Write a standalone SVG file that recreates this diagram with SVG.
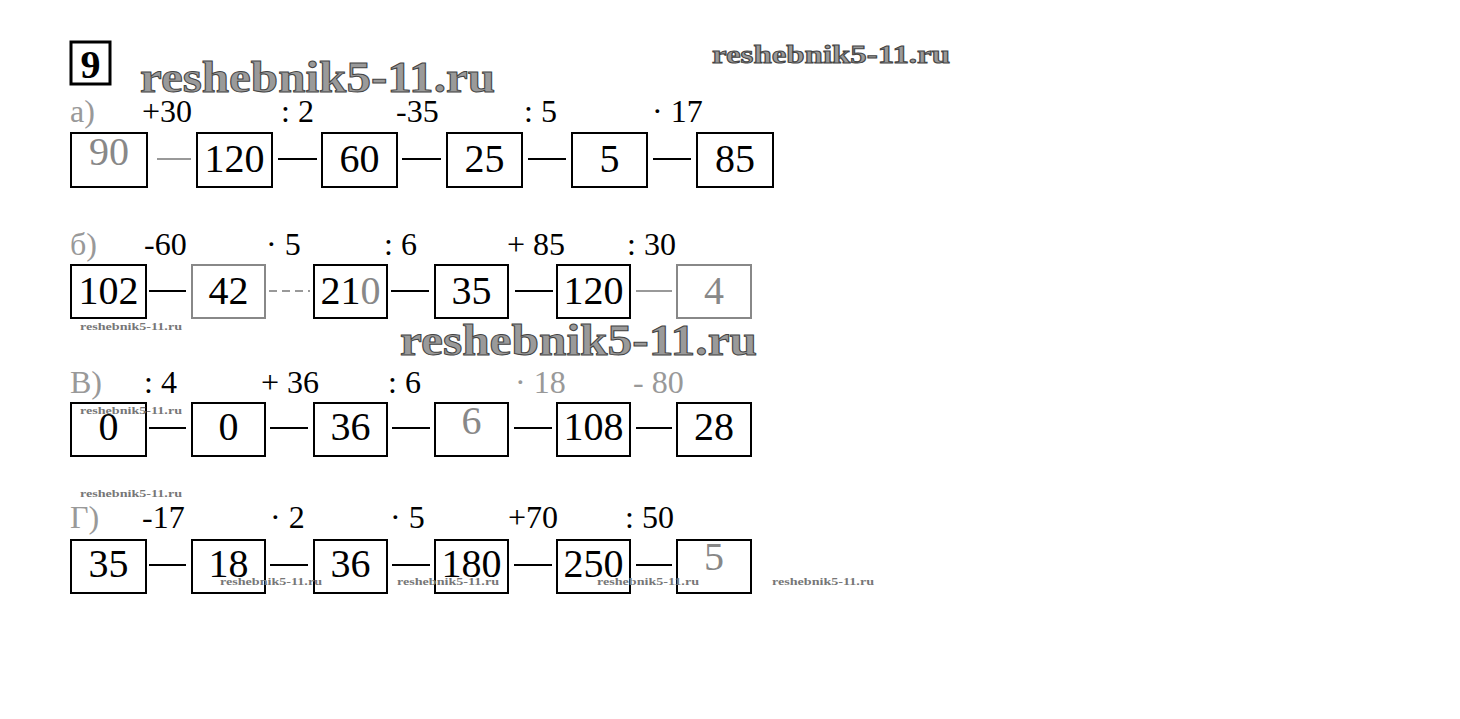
<svg xmlns="http://www.w3.org/2000/svg" width="1460" height="719" viewBox="0 0 1460 719">
<style>
.box{fill:#fff;stroke:#000;stroke-width:2}
.gbox{fill:#fff;stroke:#888;stroke-width:2}
.num{font-family:"Liberation Serif",serif;font-size:40px;text-anchor:middle;fill:#000}
.gnum{font-family:"Liberation Serif",serif;font-size:40px;text-anchor:middle;fill:#888}
.op{font-family:"Liberation Serif",serif;font-size:32px;fill:#000}
.gop{font-family:"Liberation Serif",serif;font-size:32px;fill:#999}
.con{stroke:#000;stroke-width:2}
.gcon{stroke:#999;stroke-width:2}
.wm{font-family:"Liberation Serif",serif;font-weight:bold;fill:#9a9a9a;stroke:#444;stroke-width:1}
.wms{font-family:"Liberation Serif",serif;font-weight:bold;font-size:11px;fill:#777}
</style>
<rect width="1460" height="719" fill="#fff"/>
<g id="title">
<rect x="71" y="42" width="39" height="42" fill="#fff" stroke="#000" stroke-width="3"/>
<text x="90.5" y="78" font-family="Liberation Serif,serif" font-weight="bold" font-size="40" text-anchor="middle">9</text>
</g>
<g id="connectors">
<line class="gcon" x1="157" y1="159" x2="191" y2="159"/>
<line class="con" x1="278" y1="159" x2="317" y2="159"/>
<line class="con" x1="402" y1="159" x2="441" y2="159"/>
<line class="con" x1="528" y1="159" x2="566" y2="159"/>
<line class="con" x1="653" y1="159" x2="691" y2="159"/>
<line class="con" x1="149" y1="291" x2="186" y2="291"/>
<line class="gcon" x1="269" y1="291" x2="310" y2="291" stroke-dasharray="8 5"/>
<line class="con" x1="391" y1="291" x2="429" y2="291"/>
<line class="con" x1="515" y1="291" x2="553" y2="291"/>
<line class="gcon" x1="636" y1="291" x2="672" y2="291"/>
<line class="con" x1="149" y1="428" x2="186" y2="428"/>
<line class="con" x1="270" y1="428" x2="308" y2="428"/>
<line class="con" x1="392" y1="428" x2="430" y2="428"/>
<line class="con" x1="514" y1="428" x2="552" y2="428"/>
<line class="con" x1="636" y1="428" x2="672" y2="428"/>
<line class="con" x1="149" y1="565" x2="186" y2="565"/>
<line class="con" x1="270" y1="565" x2="308" y2="565"/>
<line class="con" x1="392" y1="565" x2="430" y2="565"/>
<line class="con" x1="514" y1="565" x2="552" y2="565"/>
<line class="con" x1="636" y1="565" x2="672" y2="565"/>
</g>
<g id="row-a">
<text class="gop" x="70" y="122">а)</text>
<text class="op" x="142" y="122">+30</text>
<text class="op" x="281" y="122">: 2</text>
<text class="op" x="396" y="122">-35</text>
<text class="op" x="524" y="122">: 5</text>
<text class="op" x="652" y="122">· 17</text>
<g id="a1"><rect class="box" x="71" y="133" width="76" height="54"/><text class="gnum" x="109" y="165" font-size="34">90</text></g>
<g id="a2"><rect class="box" x="197" y="133" width="75" height="54"/><text class="num" x="234.5" y="172">120</text></g>
<g id="a3"><rect class="box" x="322" y="133" width="75" height="54"/><text class="num" x="359.5" y="172">60</text></g>
<g id="a4"><rect class="box" x="447" y="133" width="75" height="54"/><text class="num" x="484.5" y="172">25</text></g>
<g id="a5"><rect class="box" x="572" y="133" width="75" height="54"/><text class="num" x="609.5" y="172">5</text></g>
<g id="a6"><rect class="box" x="697" y="133" width="76" height="54"/><text class="num" x="735" y="172">85</text></g>
</g>
<g id="row-b">
<text class="gop" x="70" y="255">б)</text>
<text class="op" x="144" y="255">-60</text>
<text class="op" x="266" y="255">· 5</text>
<text class="op" x="384" y="255">: 6</text>
<text class="op" x="507" y="255">+ 85</text>
<text class="op" x="627" y="255">: 30</text>
<g id="b1"><rect class="box" x="71" y="265" width="75" height="53"/><text class="num" x="108.5" y="304">102</text></g>
<g id="b2"><rect class="gbox" x="192" y="265" width="73" height="53"/><text class="num" x="228.5" y="304">42</text></g>
<g id="b3"><rect class="box" x="314" y="265" width="73" height="53"/><text class="num" x="350.5" y="304">21<tspan fill="#888">0</tspan></text></g>
<g id="b4"><rect class="box" x="435" y="265" width="73" height="53"/><text class="num" x="471.5" y="304">35</text></g>
<g id="b5"><rect class="box" x="557" y="265" width="73" height="53"/><text class="num" x="593.5" y="304">120</text></g>
<g id="b6"><rect class="gbox" x="677" y="265" width="74" height="53"/><text class="gnum" x="714" y="304">4</text></g>
</g>
<g id="row-v">
<text class="gop" x="70" y="393">В)</text>
<text class="op" x="144" y="393">: 4</text>
<text class="op" x="261" y="393">+ 36</text>
<text class="op" x="388" y="393">: 6</text>
<text class="gop" x="515" y="393">· 18</text>
<text class="gop" x="633" y="393">- 80</text>
<g id="v1"><rect class="box" x="71" y="403" width="75" height="53"/><text class="num" x="108.5" y="440">0</text></g>
<g id="v2"><rect class="box" x="192" y="403" width="73" height="53"/><text class="num" x="228.5" y="440">0</text></g>
<g id="v3"><rect class="box" x="314" y="403" width="73" height="53"/><text class="num" x="350.5" y="440">36</text></g>
<g id="v4"><rect class="box" x="435" y="403" width="73" height="53"/><text class="gnum" x="471.5" y="434" font-size="32">6</text></g>
<g id="v5"><rect class="box" x="557" y="403" width="73" height="53"/><text class="num" x="593.5" y="440">108</text></g>
<g id="v6"><rect class="box" x="677" y="403" width="74" height="53"/><text class="num" x="714" y="440">28</text></g>
</g>
<g id="row-g">
<text class="gop" x="70" y="528">Г)</text>
<text class="op" x="142" y="528">-17</text>
<text class="op" x="270" y="528">· 2</text>
<text class="op" x="390" y="528">· 5</text>
<text class="op" x="508" y="528">+70</text>
<text class="op" x="625" y="528">: 50</text>
<g id="g1"><rect class="box" x="71" y="540" width="75" height="53"/><text class="num" x="108.5" y="577">35</text></g>
<g id="g2"><rect class="box" x="192" y="540" width="73" height="53"/><text class="num" x="228.5" y="577">18</text></g>
<g id="g3"><rect class="box" x="314" y="540" width="73" height="53"/><text class="num" x="350.5" y="577">36</text></g>
<g id="g4"><rect class="box" x="435" y="540" width="73" height="53"/><text class="num" x="471.5" y="577">180</text></g>
<g id="g5"><rect class="box" x="557" y="540" width="73" height="53"/><text class="num" x="593.5" y="577">250</text></g>
<g id="g6"><rect class="box" x="677" y="540" width="74" height="53"/><text class="gnum" x="714" y="570" font-size="32">5</text></g>
</g>
<g id="watermarks">
<text class="wm" x="140" y="92" font-size="44" textLength="355" lengthAdjust="spacingAndGlyphs">reshebnik5-11.ru</text>
<text class="wm" x="712" y="63" font-size="26" stroke-width="0.6" textLength="238" lengthAdjust="spacingAndGlyphs">reshebnik5-11.ru</text>
<text class="wm" x="400" y="355" font-size="44" textLength="357" lengthAdjust="spacingAndGlyphs">reshebnik5-11.ru</text>
<text class="wms" x="80" y="330" textLength="102" lengthAdjust="spacingAndGlyphs">reshebnik5-11.ru</text>
<text class="wms" x="80" y="414" textLength="102" lengthAdjust="spacingAndGlyphs">reshebnik5-11.ru</text>
<text class="wms" x="80" y="497" textLength="102" lengthAdjust="spacingAndGlyphs">reshebnik5-11.ru</text>
<text class="wms" x="220" y="585" textLength="102" lengthAdjust="spacingAndGlyphs">reshebnik5-11.ru</text>
<text class="wms" x="397" y="585" textLength="102" lengthAdjust="spacingAndGlyphs">reshebnik5-11.ru</text>
<text class="wms" x="597" y="585" textLength="102" lengthAdjust="spacingAndGlyphs">reshebnik5-11.ru</text>
<text class="wms" x="772" y="585" textLength="102" lengthAdjust="spacingAndGlyphs">reshebnik5-11.ru</text>
</g>
</svg>
